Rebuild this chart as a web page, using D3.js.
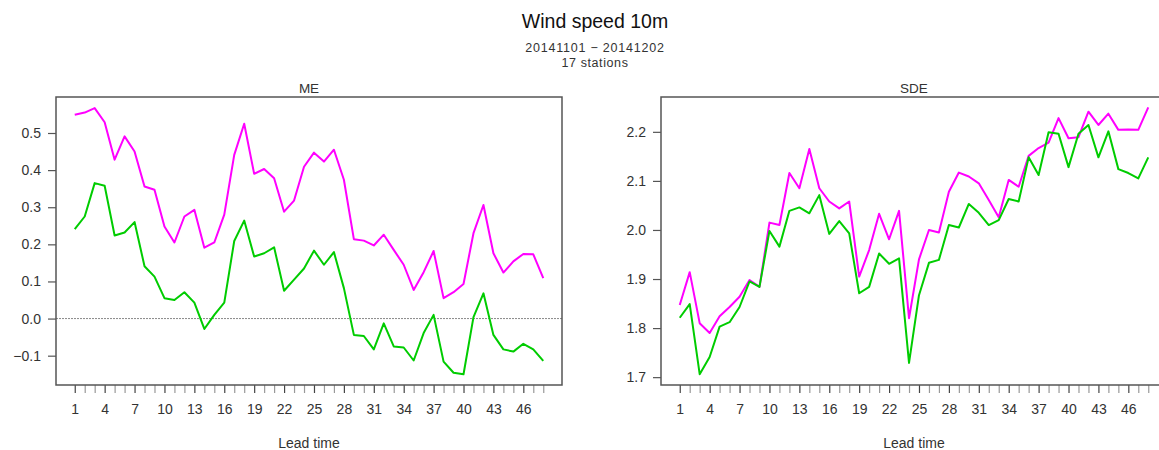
<!DOCTYPE html>
<html>
<head>
<meta charset="utf-8">
<script src="https://cdn.jsdelivr.net/npm/d3@7"></script>
<style>
  html, body { margin: 0; padding: 0; background: #fff; }
  svg { display: block; font-family: "Liberation Sans", Arial, sans-serif; }
</style>
</head>
<body>
<svg id="chart" width="1159" height="450"></svg>
<script>
// Lead times 1..48
const leadTimes = d3.range(1, 49);
const xTickLabels = [1, 4, 7, 10, 13, 16, 19, 22, 25, 28, 31, 34, 37, 40, 43, 46];

// Mean error per lead time
const meMagenta = [0.549, 0.555, 0.567, 0.529, 0.428, 0.491, 0.450, 0.356, 0.347, 0.248,
  0.205, 0.275, 0.293, 0.191, 0.205, 0.280, 0.441, 0.525, 0.390, 0.403,
  0.378, 0.288, 0.318, 0.409, 0.447, 0.423, 0.455, 0.374, 0.214, 0.210,
  0.197, 0.226, 0.185, 0.145, 0.077, 0.125, 0.182, 0.055, 0.071, 0.093,
  0.230, 0.306, 0.176, 0.124, 0.154, 0.174, 0.173, 0.109];
const meGreen = [0.241, 0.275, 0.365, 0.358, 0.224, 0.232, 0.260, 0.141, 0.113, 0.055,
  0.050, 0.071, 0.043, -0.028, 0.010, 0.043, 0.209, 0.264, 0.167, 0.176,
  0.192, 0.075, 0.105, 0.135, 0.183, 0.145, 0.179, 0.082, -0.044, -0.047,
  -0.083, -0.013, -0.075, -0.078, -0.113, -0.039, 0.010, -0.116, -0.146, -0.150,
  0.004, 0.068, -0.044, -0.083, -0.089, -0.068, -0.083, -0.114];

// Standard deviation of error per lead time
const sdeMagenta = [1.847, 1.914, 1.810, 1.790, 1.824, 1.843, 1.864, 1.898, 1.884, 2.015,
  2.010, 2.116, 2.085, 2.165, 2.085, 2.058, 2.044, 2.058, 1.905, 1.959,
  2.033, 1.981, 2.039, 1.820, 1.940, 2.000, 1.995, 2.078, 2.117, 2.109,
  2.095, 2.061, 2.026, 2.102, 2.088, 2.151, 2.167, 2.178, 2.228, 2.187,
  2.189, 2.241, 2.214, 2.237, 2.204, 2.205, 2.204, 2.250];
const sdeGreen = [1.821, 1.849, 1.706, 1.741, 1.803, 1.812, 1.843, 1.895, 1.884, 1.998,
  1.966, 2.039, 2.046, 2.034, 2.071, 1.992, 2.018, 1.993, 1.871, 1.884,
  1.952, 1.931, 1.942, 1.729, 1.867, 1.933, 1.939, 2.010, 2.005, 2.053,
  2.035, 2.010, 2.020, 2.063, 2.058, 2.148, 2.112, 2.199, 2.196, 2.128,
  2.196, 2.214, 2.148, 2.201, 2.124, 2.116, 2.105, 2.148];

const meTicks = [-0.1, 0.0, 0.1, 0.2, 0.3, 0.4, 0.5];
const sdeTicks = [1.7, 1.8, 1.9, 2.0, 2.1, 2.2];

const svg = d3.select("#chart");

// Figure title block
svg.append("text").attr("x", 595).attr("y", 28).attr("text-anchor", "middle")
  .attr("font-size", 19.5).attr("fill", "#111").text("Wind speed 10m");
svg.append("text").attr("x", 595).attr("y", 52).attr("text-anchor", "middle")
  .attr("font-size", 12.5).attr("letter-spacing", 0.8).attr("fill", "#333")
  .text("20141101 \u2212 20141202");
svg.append("text").attr("x", 595).attr("y", 66.5).attr("text-anchor", "middle")
  .attr("font-size", 12.5).attr("letter-spacing", 0.6).attr("fill", "#333")
  .text("17 stations");

function panel(opts) {
  const { left, top, width, height, yDomain, yTicks, series, title, zeroLine } = opts;
  const g = svg.append("g");
  const x = d3.scaleLinear().domain([1 - 47 * 0.04, 48 + 47 * 0.04]).range([left, left + width]);
  const y = d3.scaleLinear().domain(yDomain).range([top + height, top]);

  // panel title
  g.append("text").attr("x", left + width / 2).attr("y", top - 4)
    .attr("text-anchor", "middle").attr("font-size", 13.5).attr("fill", "#333").text(title);

  // y axis
  const yAxis = d3.axisLeft(y).tickValues(yTicks).tickSize(8).tickPadding(7)
    .tickFormat(d3.format(".1f"));
  const ya = g.append("g").attr("transform", `translate(${left},0)`).call(yAxis);
  ya.select(".domain").remove();
  ya.selectAll(".tick line").attr("stroke", "#555").attr("stroke-width", 1.2);
  ya.selectAll(".tick text").attr("font-size", 14).attr("fill", "#333")
    .attr("font-family", "Liberation Sans, Arial, sans-serif")
    .text(d => d3.format(".1f")(d).replace("-", "\u2212"));

  // x axis: tick at every lead time, labels every third
  const xAxis = d3.axisBottom(x).tickValues(leadTimes).tickSize(8).tickPadding(11)
    .tickFormat(d => xTickLabels.includes(d) ? d : "");
  const xa = g.append("g").attr("transform", `translate(0,${top + height})`).call(xAxis);
  xa.select(".domain").remove();
  xa.selectAll(".tick line")
    .attr("stroke", d => xTickLabels.includes(d) ? "#444" : "#999")
    .attr("stroke-width", 1.2);
  xa.selectAll(".tick text").attr("font-size", 14).attr("fill", "#333")
    .attr("font-family", "Liberation Sans, Arial, sans-serif");

  // x axis title
  g.append("text").attr("x", left + width / 2).attr("y", top + height + 63)
    .attr("text-anchor", "middle").attr("font-size", 14).attr("fill", "#333").text("Lead time");

  // zero reference line
  if (zeroLine) {
    g.append("line").attr("x1", left).attr("x2", left + width)
      .attr("y1", y(0)).attr("y2", y(0))
      .attr("stroke", "#888").attr("stroke-width", 1).attr("stroke-dasharray", "2,1");
  }

  // series lines
  const line = d3.line().x((d, i) => x(leadTimes[i])).y(d => y(d));
  series.forEach(s => {
    g.append("path").datum(s.values).attr("d", line)
      .attr("fill", "none").attr("stroke", s.color).attr("stroke-width", 2)
      .attr("stroke-linejoin", "round");
  });

  // frame
  g.append("rect").attr("x", left).attr("y", top).attr("width", width).attr("height", height)
    .attr("fill", "none").attr("stroke", "#555").attr("stroke-width", 1.5);
}

panel({
  left: 56, top: 97, width: 506, height: 288,
  yDomain: [-0.179, 0.597], yTicks: meTicks, title: "ME", zeroLine: true,
  series: [{ values: meMagenta, color: "#ff00ff" }, { values: meGreen, color: "#00cc00" }]
});

panel({
  left: 661, top: 97, width: 506, height: 288,
  yDomain: [1.684, 2.271], yTicks: sdeTicks, title: "SDE", zeroLine: false,
  series: [{ values: sdeMagenta, color: "#ff00ff" }, { values: sdeGreen, color: "#00cc00" }]
});
</script>
</body>
</html>
